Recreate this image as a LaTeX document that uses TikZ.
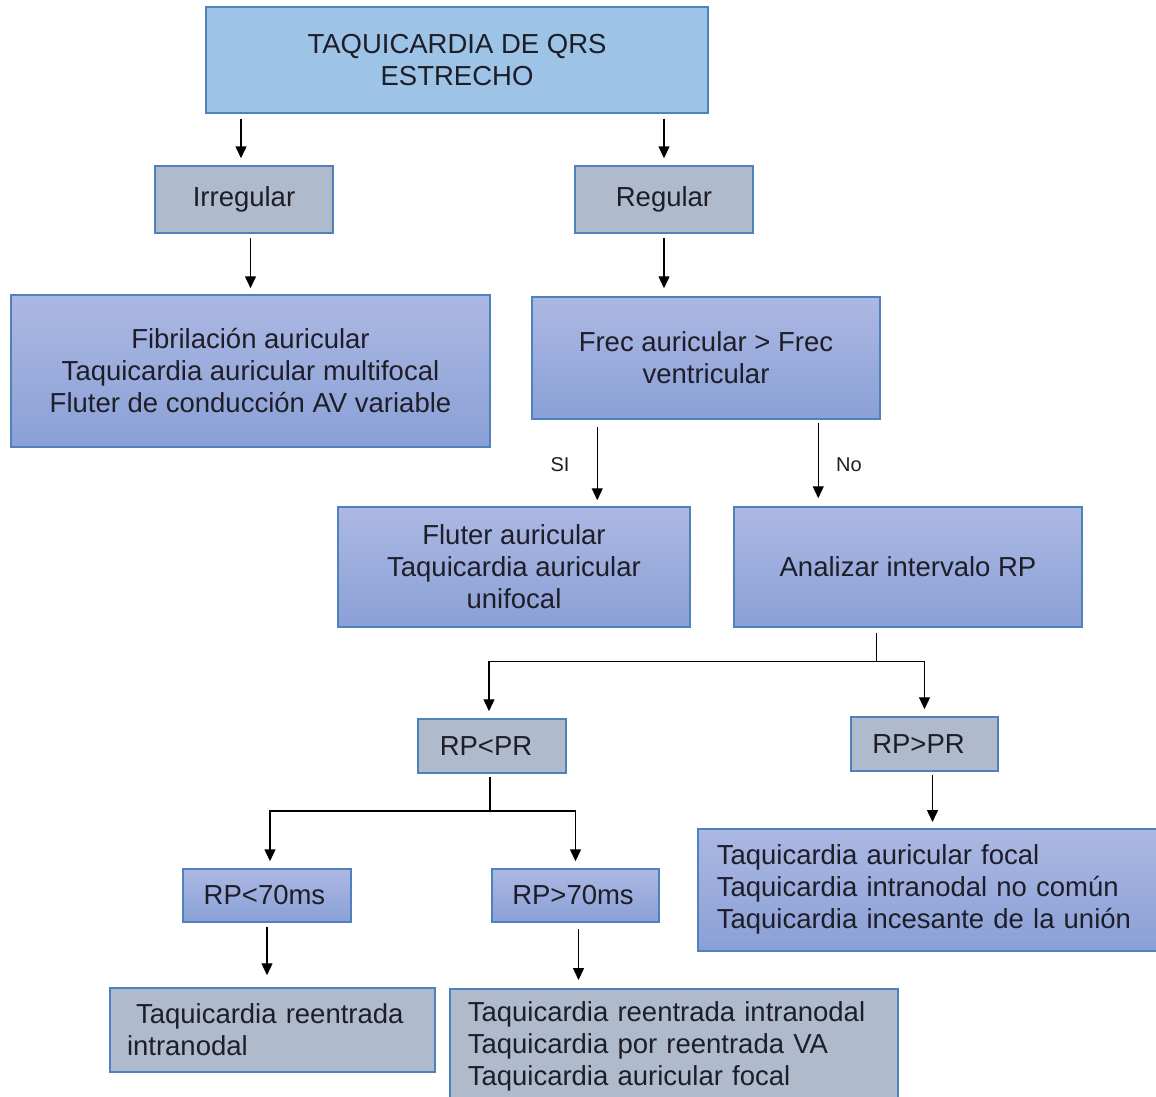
\documentclass[tikz,border=0pt]{standalone}
\usepackage{fontspec}
\setmainfont{Liberation Sans}
\usetikzlibrary{arrows.meta,calc}
\definecolor{edgeblue}{RGB}{79,129,189}
\definecolor{topfill}{RGB}{157,195,230}
\definecolor{grayfill}{RGB}{176,186,205}
\definecolor{gradtop}{RGB}{172,184,227}
\definecolor{gradbot}{RGB}{138,160,214}
\definecolor{txt}{RGB}{30,30,40}
\tikzset{
  base/.style={draw=edgeblue, line width=1.5pt, inner sep=0pt, text=txt, align=center,
    font=\fontsize{27.5}{32}\selectfont},
  topbox/.style={base, fill=topfill},
  graybox/.style={base, fill=grayfill},
  gradbox/.style={base, top color=gradtop, bottom color=gradbot},
  arr/.style={draw=black, line width=1.5pt, -{Triangle[length=12pt,width=11pt]}},
  ln/.style={draw=black, line width=1.5pt},
  lbl/.style={text=txt, font=\fontsize{20}{22}\selectfont, inner sep=0pt}
}
\begin{document}
\begin{tikzpicture}[x=1pt,y=-1pt]
\useasboundingbox (0,0) rectangle (1156,1097);
\clip (0,0) rectangle (1156,1097);
\fill[white] (0,0) rectangle (1156,1097);

\node[topbox, minimum width=502pt, minimum height=106pt] (top) at (457,60) {TAQUICARDIA DE QRS\\ESTRECHO};
\node[graybox, minimum width=178pt, minimum height=67pt] (irr) at (244,199.5) {Irregular};
\node[graybox, minimum width=178pt, minimum height=67pt] (reg) at (664,199.5) {Regular};
\node[gradbox, minimum width=479pt, minimum height=152pt] (fib) at (250.5,371) {Fibrilación auricular\\Taquicardia auricular multifocal\\Fluter de conducción AV variable};
\node[gradbox, minimum width=348pt, minimum height=122pt] (frec) at (706,358) {Frec auricular > Frec\\ventricular};
\node[gradbox, minimum width=352pt, minimum height=120pt] (flu) at (514,567) {Fluter auricular\\Taquicardia auricular\\unifocal};
\node[gradbox, minimum width=348pt, minimum height=120pt] (anal) at (908,567) {Analizar intervalo RP};
\node[graybox, minimum width=148pt, minimum height=54pt] (rplt) at (492,746) {RP<PR\hspace*{12pt}};
\node[graybox, minimum width=147pt, minimum height=54pt] (rpgt) at (924.5,744) {RP>PR\hspace*{12pt}};
\node[gradbox, minimum width=168pt, minimum height=53pt] (rplt70) at (267,895.5) {RP<70ms\hspace*{5pt}};
\node[gradbox, minimum width=167pt, minimum height=53pt] (rpgt70) at (575.5,895.5) {RP>70ms\hspace*{5pt}};
\node[gradbox, anchor=north west, align=left, inner xsep=19pt, text width=425pt, minimum height=122pt] (af) at (697,828)
  {Taquicardia auricular focal\\Taquicardia intranodal no común\\Taquicardia incesante de la unión};
\node[graybox, align=left, inner xsep=17pt, text width=291pt, minimum height=84pt] (reent) at (272.5,1030)
  {\hspace*{9pt}Taquicardia reentrada\\intranodal};
\node[graybox, anchor=north west, align=left, inner xsep=18pt, text width=412pt, minimum height=116pt] (bm) at (449,988)
  {Taquicardia reentrada intranodal\\Taquicardia por reentrada VA\\Taquicardia auricular focal};

% connectors
\draw[arr, shorten <=5pt, shorten >=7pt] ([xshift=-3pt]top.south -| irr.north) -- ([xshift=-3pt]irr.north);
\draw[arr, shorten <=5pt, shorten >=7pt] (top.south -| reg.north) -- (reg.north);
\draw[arr, shorten <=4pt, shorten >=6pt] (irr.south -| fib.north) -- (fib.north);
\draw[arr, shorten <=4pt, shorten >=8pt] (reg.south) -- (reg.south |- frec.north);
\draw[arr, line width=1.2pt, shorten <=7pt, shorten >=6pt] ([xshift=66pt]frec.south west) -- ([xshift=66pt]frec.south west |- flu.north);
\draw[arr, line width=1.2pt, shorten <=3pt, shorten >=8pt] ([xshift=85pt]anal.north west |- frec.south) -- ([xshift=85pt]anal.north west);
\node[lbl] (si) at (560,465) {SI};
\node[lbl] (no) at (849,465) {No};

\coordinate (j1) at ($(anal.south west)+(143,34)$);
\draw[ln, shorten <=5pt] ([xshift=143pt]anal.south west) -- (j1);
\draw[arr, line width=1.2pt, shorten >=7pt] (j1) -| ([xshift=-3pt]rplt.north);
\draw[arr, line width=1.2pt, shorten >=7pt] (j1) -| (rpgt.north);
\draw[arr, shorten <=3pt, shorten >=6pt] ([xshift=8pt]rpgt.south) -- ([xshift=8pt]rpgt.south |- af.north);

\coordinate (j2) at ($(rplt.south)+(-2,37)$);
\draw[ln, line width=1.2pt, shorten <=3pt] ([xshift=-2pt]rplt.south) -- (j2);
\draw[arr, shorten >=7pt] (j2) -| ([xshift=3pt]rplt70.north);
\draw[arr, shorten >=7pt] (j2) -| (rpgt70.north);
\draw[arr, line width=1.2pt, shorten <=4pt, shorten >=12pt] (rplt70.south) -- (rplt70.south |- reent.north);
\draw[arr, shorten <=6pt, shorten >=8pt] ([xshift=3pt]rpgt70.south) -- ([xshift=3pt]rpgt70.south |- bm.north);
\end{tikzpicture}
\end{document}
